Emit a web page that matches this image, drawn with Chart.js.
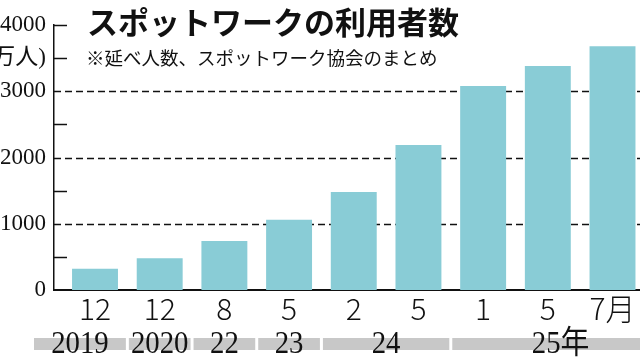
<!DOCTYPE html>
<html>
<head>
<meta charset="utf-8">
<script src="https://cdn.jsdelivr.net/npm/chart.js@4"></script>
<style>
  html, body { margin: 0; padding: 0; background: #fff; }
  #wrap { width: 640px; height: 360px; position: relative; }
</style>
</head>
<body>
<div id="wrap"><canvas id="c" width="640" height="360"></canvas></div>
<script>
// ---- data ----
const categories = ['12', '12', '8', '5', '2', '5', '1', '5', '7月'];
const users = [320, 480, 740, 1060, 1480, 2190, 3080, 3380, 3680]; // 万人
const yearLabels = ['2019', '2020', '22', '23', '24', '25年'];
const yearSpans = [[0, 0], [1, 1], [2, 2], [3, 3], [4, 5], [6, 8]];
const yTickValues = [0, 500, 1000, 1500, 2000, 2500, 3000, 3500, 4000];
const yLabeled = [0, 1000, 2000, 3000, 4000];
const yUnitLabel = '(万人)';
const yUnitAt = 3500;
const gridValues = [1000, 2000, 3000];
const titleText = 'スポットワークの利用者数';
const subtitleText = '※延べ人数、スポットワーク協会のまとめ';

const INK = '#111';
const BAR = '#89ccd6';
const BAND = '#c8c8c8';

const decor = {
  id: 'decor',
  beforeDatasetsDraw(chart) {
    const { ctx, chartArea, scales } = chart;
    const y = scales.y;
    ctx.save();
    ctx.strokeStyle = INK;
    ctx.lineWidth = 1.4;
    ctx.setLineDash([7, 4]);
    gridValues.forEach(v => {
      const py = Math.round(y.getPixelForValue(v)) + 0.5;
      ctx.beginPath();
      ctx.moveTo(chartArea.left, py);
      ctx.lineTo(chartArea.right, py);
      ctx.stroke();
    });
    ctx.setLineDash([]);
    ctx.lineWidth = 1.5;
    yTickValues.forEach(v => {
      if (v === 0 || gridValues.includes(v)) return;
      const py = Math.round(y.getPixelForValue(v)) + 0.5;
      ctx.beginPath();
      ctx.moveTo(chartArea.left, py);
      ctx.lineTo(chartArea.left + 13, py);
      ctx.stroke();
    });
    ctx.restore();
  },
  afterDraw(chart) {
    const { ctx, scales } = chart;
    const x = scales.x;
    ctx.save();
    const bandTop = 338, bandH = 12;
    const sx = 0.9;
    ctx.font = "32px 'Liberation Serif', 'Noto Sans CJK JP', serif";
    ctx.textBaseline = 'alphabetic';
    yearSpans.forEach((sp, i) => {
      let l = x.getPixelForValue(sp[0] - 0.5) + 1.5;
      const r = Math.min(640, x.getPixelForValue(sp[1] + 0.5) - 1.5);
      if (i === 0) l = 34;
      ctx.fillStyle = BAND;
      ctx.fillRect(l, bandTop, r - l, bandH);
      const label = yearLabels[i];
      const core = label.replace(/年$/, '');
      const cw = ctx.measureText(core).width * sx;
      const cx = (l + r) / 2;
      ctx.save();
      ctx.translate(cx - cw / 2, 353);
      ctx.scale(sx, 1);
      ctx.fillStyle = INK;
      ctx.textAlign = 'left';
      ctx.fillText(label, 0, 0);
      ctx.restore();
    });
    ctx.fillStyle = INK;
    ctx.textAlign = 'left';
    ctx.textBaseline = 'middle';
    ctx.font = "bold 31px 'Noto Sans CJK JP', sans-serif";
    ctx.fillText(titleText, 87, 22);
    ctx.font = "18.5px 'Noto Sans CJK JP', sans-serif";
    ctx.fillText(subtitleText, 86, 58);
    ctx.restore();
  }
};

new Chart(document.getElementById('c'), {
  type: 'bar',
  data: {
    datasets: [{
      data: users.map((v, i) => ({ x: i, y: v })),
      backgroundColor: BAR,
      borderWidth: 0,
      barPercentage: 0.71,
      categoryPercentage: 1.0
    }]
  },
  options: {
    responsive: false,
    animation: false,
    events: [],
    layout: { padding: { top: 25, right: 0, bottom: 0, left: 0 } },
    plugins: { legend: { display: false }, tooltip: { enabled: false }, title: { display: false } },
    scales: {
      x: {
        type: 'linear',
        offset: false,
        bounds: 'data',
        min: -0.634,
        max: 8.425,
        afterBuildTicks: (s) => { s.ticks = categories.map((_, i) => ({ value: i })); },
        afterFit: (s) => { s.height = 70; },
        grid: { display: false, drawTicks: false, offset: false },
        border: { display: true, color: INK, width: 2 },
        ticks: {
          autoSkip: false,
          maxRotation: 0,
          padding: 4,
          color: INK,
          font: { family: "'Noto Sans CJK JP', 'Noto Sans', sans-serif", size: 30, weight: 300, lineHeight: 1 },
          callback: (v) => categories[v] !== undefined ? categories[v] : ''
        }
      },
      y: {
        min: 0,
        max: 4000,
        afterBuildTicks: (s) => { s.ticks = yTickValues.map(v => ({ value: v })); },
        afterFit: (s) => { s.width = 54; },
        grid: { display: false, drawTicks: false },
        border: { display: true, color: INK, width: 1.5 },
        ticks: {
          autoSkip: false,
          padding: 8,
          color: INK,
          font: { family: "'Liberation Serif', 'Noto Sans CJK JP', serif", size: 23, lineHeight: 1 },
          callback: (v) => yLabeled.includes(v) ? String(v) : (v === yUnitAt ? yUnitLabel : '')
        }
      }
    }
  },
  plugins: [decor]
});
</script>
</body>
</html>
